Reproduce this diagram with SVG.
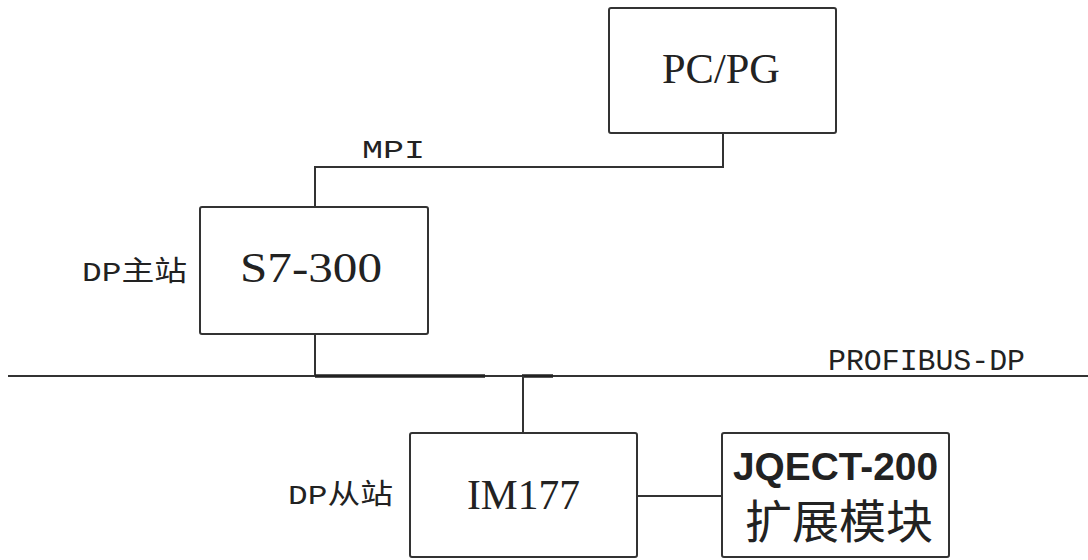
<svg xmlns="http://www.w3.org/2000/svg" width="1088" height="560" viewBox="0 0 1088 560">
<style>
.box{fill:#fff;stroke:#333;stroke-width:2}
.ln{fill:none;stroke:#333;stroke-width:2}
.thick{fill:none;stroke:#222;stroke-width:3.5}
.mono{font-family:"Liberation Mono","Noto Sans CJK SC",monospace;fill:#222}
.serif{font-family:"Liberation Serif","Noto Serif CJK SC",serif;fill:#222}
.bold{font-family:"Liberation Sans","Noto Sans CJK SC",sans-serif;font-weight:bold;fill:#222}
.cjk{font-family:"Noto Sans CJK SC",sans-serif;fill:#222}
</style>
<rect width="1088" height="560" fill="#fff"/>
<g id="connectors">
<polyline class="ln" points="723,133 723,167 315,167 315,207"/>
<line class="ln" x1="8" y1="376" x2="1088" y2="376"/>
<line class="ln" x1="315" y1="334" x2="315" y2="376"/>
<line class="thick" x1="315" y1="376" x2="485" y2="376"/>
<line class="thick" x1="522" y1="376" x2="553" y2="376"/>
<line class="ln" x1="523" y1="376" x2="523" y2="433"/>
<line class="ln" x1="637" y1="496" x2="723" y2="496"/>
</g>
<g id="labels">
<text class="mono" x="362" y="158" font-size="26" textLength="63" lengthAdjust="spacingAndGlyphs">MPI</text>
<text class="mono" x="828" y="370" font-size="29" textLength="197" lengthAdjust="spacingAndGlyphs">PROFIBUS-DP</text>
<text class="mono" x="82" y="281" font-size="28" textLength="105" lengthAdjust="spacingAndGlyphs">DP主站</text>
<text class="mono" x="288" y="504" font-size="28" textLength="105" lengthAdjust="spacingAndGlyphs">DP从站</text>
</g>
<g id="pcpg">
<rect class="box" x="609" y="8" width="227" height="125" rx="2"/>
<text class="serif" x="662" y="83" font-size="42" textLength="118" lengthAdjust="spacingAndGlyphs">PC/PG</text>
</g>
<g id="s7300">
<rect class="box" x="200" y="207" width="228" height="127" rx="2"/>
<text class="serif" x="240" y="282" font-size="42" textLength="142" lengthAdjust="spacingAndGlyphs">S7-300</text>
</g>
<g id="im177">
<rect class="box" x="410" y="433" width="227" height="124" rx="2"/>
<text class="serif" x="467" y="509" font-size="42" textLength="113" lengthAdjust="spacingAndGlyphs">IM177</text>
</g>
<g id="jqect">
<rect class="box" x="722" y="433" width="227" height="124" rx="2"/>
<text class="bold" x="733" y="480" font-size="38" textLength="205" lengthAdjust="spacingAndGlyphs">JQECT-200</text>
<text class="cjk" x="745" y="538" font-size="46" textLength="188" lengthAdjust="spacingAndGlyphs">扩展模块</text>
</g>
</svg>
